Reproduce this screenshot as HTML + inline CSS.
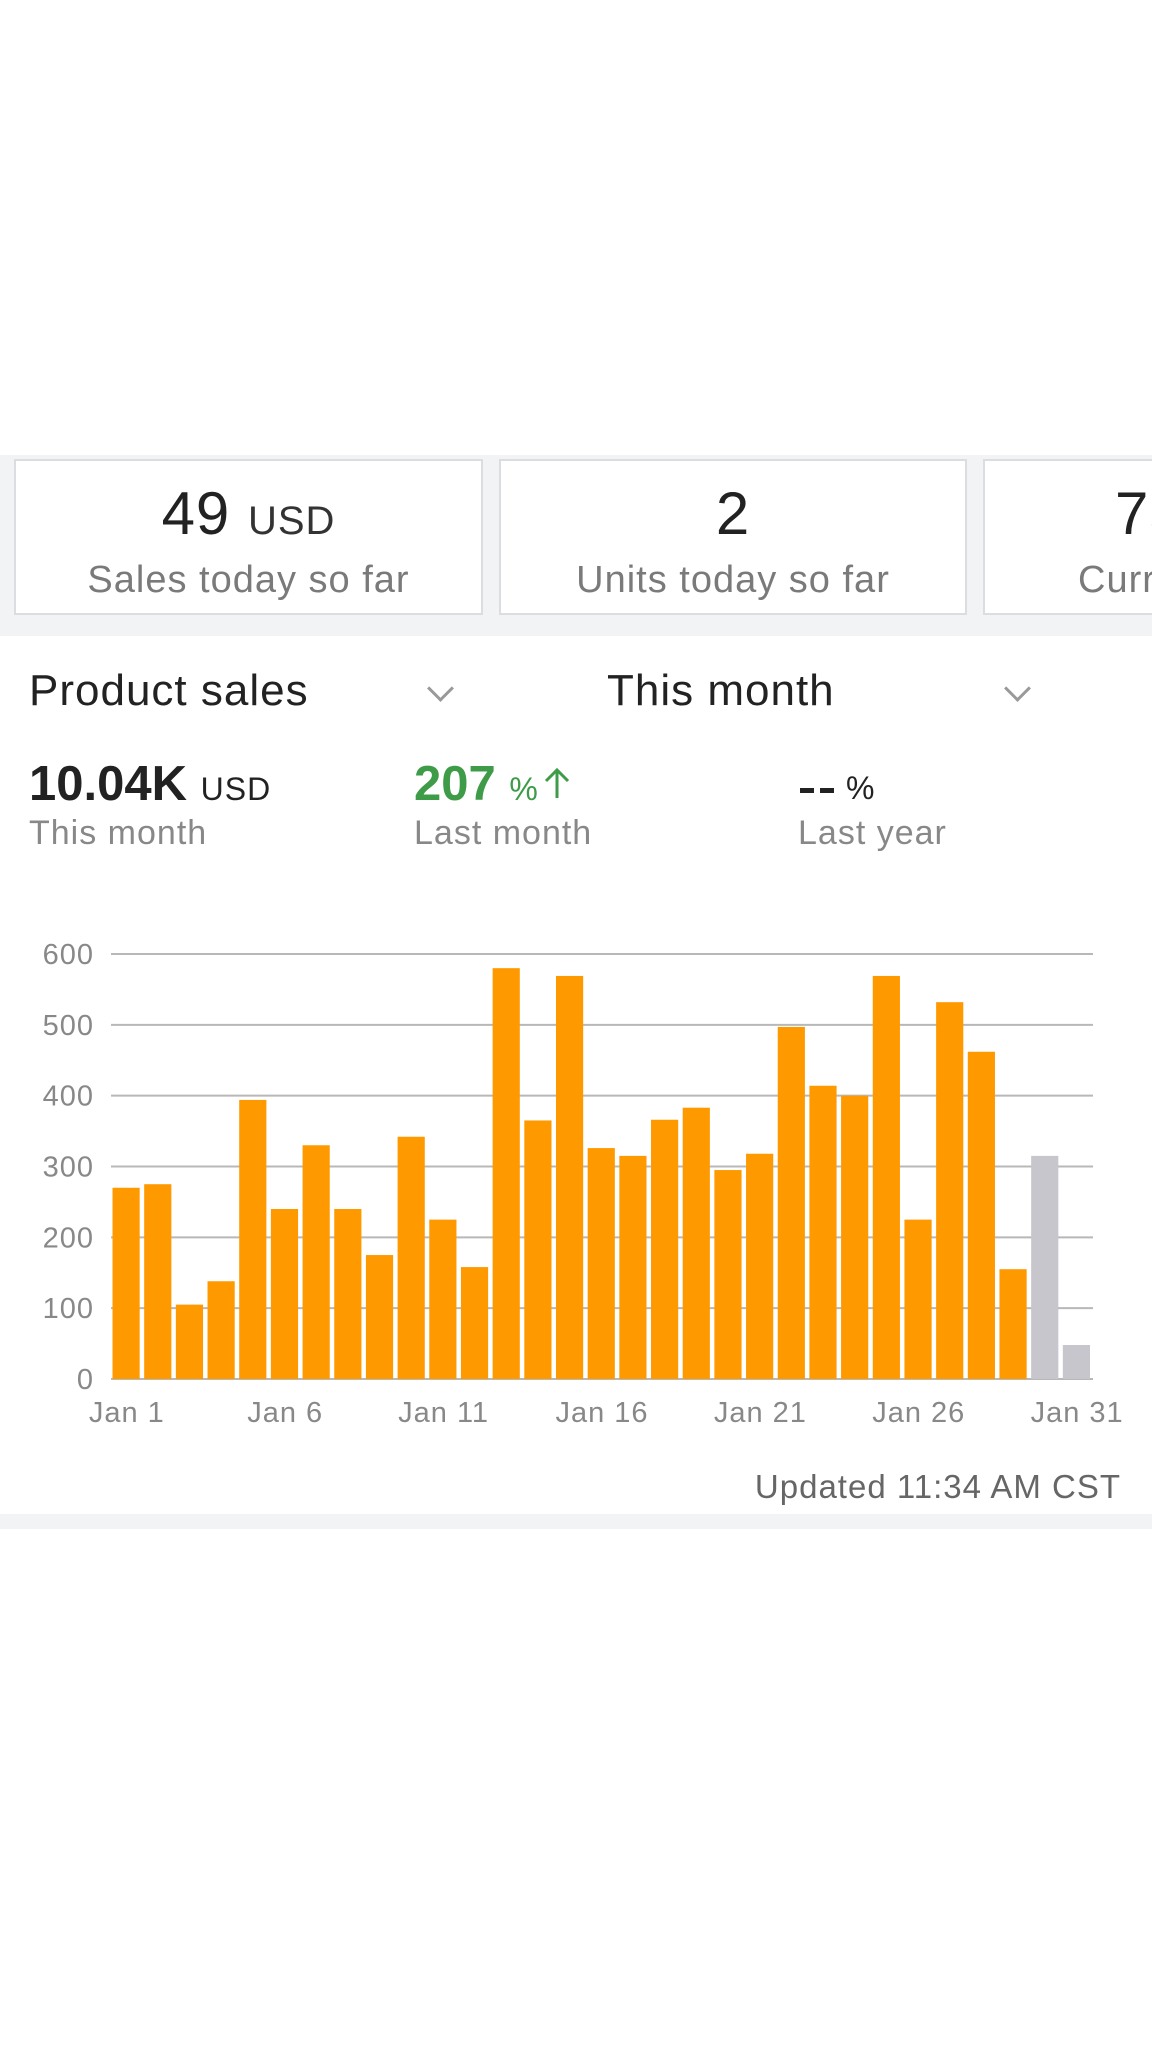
<!DOCTYPE html>
<html><head><meta charset="utf-8">
<style>
html,body{margin:0;padding:0;background:#fff;}
body{width:1152px;height:2048px;position:relative;overflow:hidden;font-family:"Liberation Sans",sans-serif;}
.abs{position:absolute;white-space:nowrap;letter-spacing:1px;}
.strip{position:absolute;left:0;width:1152px;background:#f2f3f5;}
.clip{position:absolute;left:0;top:455px;width:1152px;height:181px;overflow:hidden;background:#f2f3f5;}
.card{position:absolute;top:4px;height:156px;background:#fff;border:2px solid #dcdde0;box-sizing:border-box;text-align:center;overflow:hidden;letter-spacing:1px;}
.big{position:absolute;left:0;right:0;top:18px;font-size:60px;color:#222;}
.big span{font-size:40px;color:#333;}
.sub{position:absolute;left:0;right:0;top:98px;font-size:38px;color:#7a7a7a;}
.chev{position:absolute;width:16px;height:16px;border-right:3px solid #999;border-bottom:3px solid #999;transform:rotate(45deg);}
</style></head><body>
<div class="clip">
<div class="card" style="left:14px;width:469px;">
  <div class="big">49 <span>USD</span></div>
  <div class="sub">Sales today so far</div>
</div>
<div class="card" style="left:499px;width:468px;">
  <div class="big">2</div>
  <div class="sub">Units today so far</div>
</div>
<div class="card" style="left:983px;width:300px;text-align:left;">
  <div class="big" style="left:130px;">75</div>
  <div class="sub" style="left:93px;">Current</div>
</div>
</div>

<div class="abs" style="left:29px;top:666px;font-size:44px;color:#222;">Product sales</div>
<div class="chev" style="left:431px;top:679px;"></div>
<div class="abs" style="left:607px;top:666px;font-size:44px;color:#222;">This month</div>
<div class="chev" style="left:1008px;top:679px;"></div>

<div class="abs" style="left:29px;top:756px;font-size:49px;font-weight:bold;color:#222;letter-spacing:0;">10.04K <span style="font-size:32px;font-weight:normal;letter-spacing:1px;">USD</span></div>
<div class="abs" style="left:29px;top:814px;font-size:34px;color:#888;">This month</div>
<div class="abs" style="left:414px;top:756px;font-size:49px;font-weight:bold;color:#3e9b47;letter-spacing:0;">207 <span style="font-size:32px;font-weight:normal;">%</span><svg width="30" height="34" style="margin-left:4px;"><path d="M15 32 V4 M4 15 L15 4 L26 15" stroke="#3e9b47" stroke-width="3" fill="none"/></svg></div>
<div class="abs" style="left:414px;top:814px;font-size:34px;color:#888;">Last month</div>
<div class="abs" style="left:800px;top:770px;font-size:32px;color:#222;"><span style="display:inline-block;width:14px;height:5px;background:#222;vertical-align:middle;margin-right:6px;"></span><span style="display:inline-block;width:14px;height:5px;background:#222;vertical-align:middle;margin-right:12px;"></span>%</div>
<div class="abs" style="left:798px;top:814px;font-size:34px;color:#888;">Last year</div>

<svg id="chart" style="position:absolute;left:0;top:900px;" width="1152" height="540"></svg>

<div class="abs" style="right:31px;top:1468px;font-size:33px;color:#666;">Updated 11:34 AM CST</div>
<div class="strip" style="top:1514px;height:15px;"></div>

<script>
const days = Array.from({length:31},(_,i)=>'Jan '+(i+1));
const sales = [270,275,105,138,394,240,330,240,175,342,225,158,580,365,569,326,315,366,383,295,318,497,414,400,569,225,532,462,155,315,48];
const projected = [false,false,false,false,false,false,false,false,false,false,false,false,false,false,false,false,false,false,false,false,false,false,false,false,false,false,false,false,false,true,true];
const yTicks = [0,100,200,300,400,500,600];
const xTickLabels = ['Jan 1','Jan 6','Jan 11','Jan 16','Jan 21','Jan 26','Jan 31'];

const NS='http://www.w3.org/2000/svg';
const svg=document.getElementById('chart');
const X0=111, X1=1093, Y0=479, YTOP=54, YMAX=600;
const slot=(X1-X0)/days.length;
const xScale=i=>X0+i*slot;
const yScale=v=>Y0-(v/YMAX)*(Y0-YTOP);
function mk(tag,attrs){const e=document.createElementNS(NS,tag);for(const k in attrs)e.setAttribute(k,attrs[k]);svg.appendChild(e);return e;}

yTicks.forEach(t=>{
  const l=mk('line',{x1:X0,x2:X1,y1:yScale(t),y2:yScale(t),stroke:'#b8b8b8','stroke-width':2});
  
  
  const tx=mk('text',{x:94,y:yScale(t)+10,'text-anchor':'end','font-size':29,'letter-spacing':1,fill:'#888','font-family':'Liberation Sans, sans-serif'});
  tx.textContent=t;
  
  
});
sales.forEach((v,i)=>{
  const r=mk('rect',{x:xScale(i)+1.5,y:yScale(v),width:slot-4.5,height:Y0-yScale(v),fill:projected[i]?'#c6c6cc':'#ff9900'});
  
  
});
xTickLabels.forEach(lab=>{
  const i=days.indexOf(lab);
  const tx=mk('text',{x:xScale(i)+slot/2,y:Y0+43,'text-anchor':'middle','font-size':29,'letter-spacing':1,fill:'#888','font-family':'Liberation Sans, sans-serif'});
  tx.textContent=lab;
  
  
});
</script>
</body></html>
